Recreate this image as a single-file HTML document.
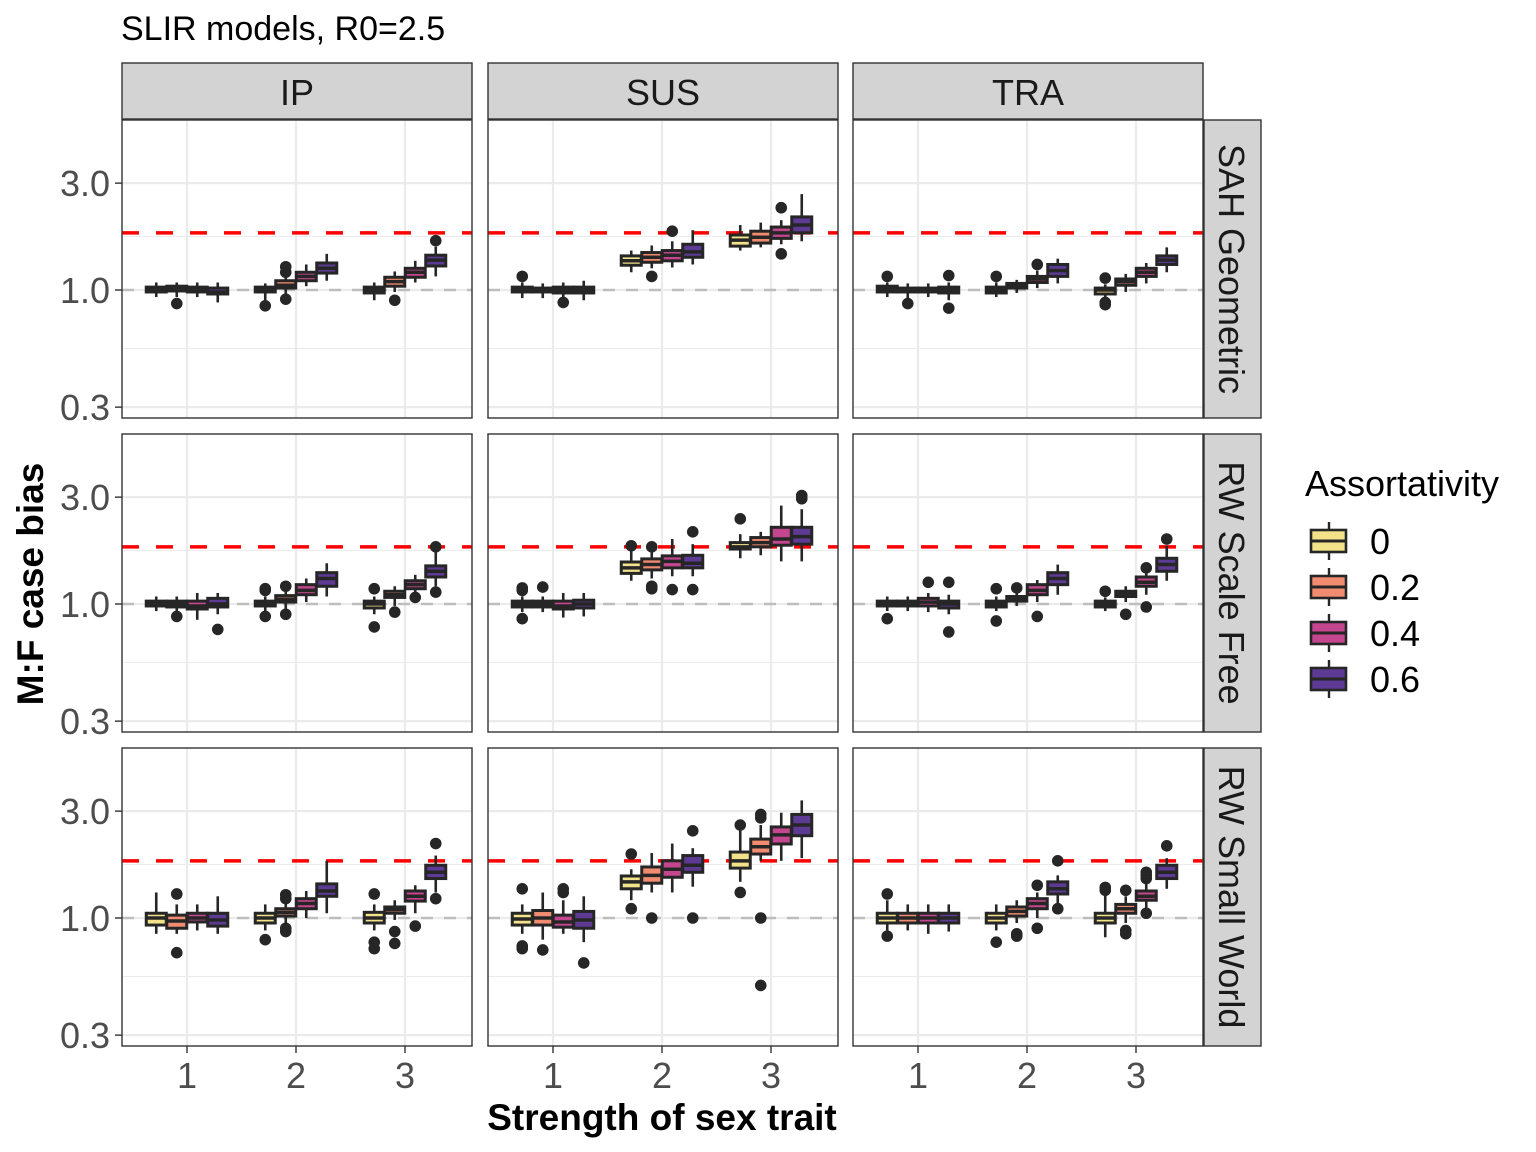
<!DOCTYPE html>
<html><head><meta charset="utf-8"><style>
html,body{margin:0;padding:0;background:#fff}
svg{display:block;font-family:"Liberation Sans",Arial,sans-serif}
</style></head><body>
<svg id="chart" width="1536" height="1152" viewBox="0 0 1536 1152" xmlns="http://www.w3.org/2000/svg">
<text x="121" y="40" font-size="34" fill="#000">SLIR models, R0=2.5</text>
<text transform="translate(43,584) rotate(-90)" text-anchor="middle" font-size="37" font-weight="bold" fill="#000">M:F case bias</text>
<text x="662" y="1130" text-anchor="middle" font-size="37" font-weight="bold" fill="#000">Strength of sex trait</text>
<g id="panels"></g>
<g id="legend">
<text x="1305" y="496" font-size="36">Assortativity</text>
</g>
</svg>
<script>
const colTitles=["IP","SUS","TRA"];
const rowTitles=["SAH Geometric","RW Scale Free","RW Small World"];
const categories=[1,2,3];
const assort=["0","0.2","0.4","0.6"];
const fillColors=["#F2E38A","#F28C70","#C4468E","#5D3A93"];
const yTicks=[0.3,1.0,3.0];
const yTickLabels=["0.3","1.0","3.0"];
const refRed=1.8;
// each box: [lo,q1,med,q3,hi,[outliers]]  panels[row][col][group][assort]
const r1ip=[[[0.93,0.98,1.0,1.03,1.08,[]],[0.93,0.99,1.01,1.04,1.08,[0.87]],[0.93,0.98,1.0,1.03,1.08,[]],[0.88,0.96,0.98,1.02,1.08,[]]],
 [[0.9,0.98,1.0,1.03,1.07,[0.85]],[0.93,1.02,1.05,1.1,1.15,[1.27,1.2,0.91]],[1.04,1.1,1.15,1.2,1.3,[]],[1.1,1.19,1.25,1.32,1.45,[]]],
 [[0.9,0.97,1.0,1.03,1.08,[]],[0.98,1.04,1.09,1.14,1.21,[0.9]],[1.08,1.14,1.2,1.25,1.35,[]],[1.15,1.28,1.36,1.43,1.56,[1.66]]]];
const r1sus=[[[0.92,0.98,1.0,1.03,1.08,[1.15]],[0.92,0.98,1.0,1.02,1.07,[]],[0.9,0.97,1.0,1.03,1.08,[0.88]],[0.9,0.97,1.0,1.03,1.1,[]]],
 [[1.2,1.29,1.35,1.42,1.5,[]],[1.25,1.33,1.4,1.47,1.58,[1.15]],[1.26,1.35,1.43,1.5,1.65,[1.83]],[1.3,1.4,1.48,1.6,1.85,[]]],
 [[1.5,1.57,1.67,1.76,1.95,[]],[1.55,1.62,1.72,1.83,2.0,[]],[1.6,1.7,1.8,1.91,2.05,[2.33,1.45]],[1.65,1.8,1.95,2.12,2.68,[]]]];
const r1tra=[[[0.93,0.98,1.01,1.04,1.08,[1.15]],[0.92,0.98,1.0,1.02,1.07,[0.87]],[0.93,0.98,1.0,1.02,1.07,[]],[0.9,0.97,1.0,1.03,1.08,[1.16,0.83]]],
 [[0.93,0.97,1.0,1.03,1.08,[1.15]],[0.97,1.02,1.05,1.07,1.11,[]],[1.02,1.08,1.12,1.15,1.22,[1.3]],[1.07,1.15,1.22,1.3,1.38,[]]],
 [[0.9,0.96,1.0,1.02,1.06,[1.13,0.88,0.86]],[0.98,1.05,1.09,1.12,1.18,[]],[1.07,1.15,1.2,1.25,1.32,[]],[1.2,1.3,1.36,1.42,1.55,[]]]];
const r2ip=[[[0.93,0.98,1.0,1.03,1.08,[]],[0.93,0.97,1.0,1.03,1.08,[0.88]],[0.85,0.95,0.98,1.03,1.12,[]],[0.9,0.97,1.0,1.06,1.12,[0.77]]],
 [[0.93,0.98,1.0,1.03,1.08,[1.17,1.15,0.88]],[0.93,1.02,1.05,1.09,1.15,[1.2,0.9]],[1.02,1.1,1.15,1.22,1.3,[]],[1.08,1.2,1.3,1.38,1.52,[]]],
 [[0.9,0.96,1.0,1.03,1.08,[1.17,0.79]],[0.98,1.07,1.1,1.14,1.2,[0.92]],[1.1,1.17,1.22,1.27,1.35,[1.07]],[1.2,1.32,1.4,1.48,1.75,[1.8,1.13]]]];
const r2sus=[[[0.92,0.97,1.0,1.03,1.08,[1.18,1.15,0.86]],[0.92,0.97,1.0,1.03,1.08,[1.19]],[0.87,0.95,0.98,1.03,1.12,[]],[0.88,0.96,1.0,1.04,1.12,[]]],
 [[1.27,1.37,1.45,1.54,1.72,[1.82]],[1.3,1.42,1.5,1.59,1.72,[1.8,1.2,1.17]],[1.33,1.45,1.55,1.64,1.95,[1.16]],[1.33,1.45,1.52,1.65,1.85,[2.1,1.16]]],
 [[1.6,1.76,1.8,1.88,2.05,[2.4]],[1.65,1.8,1.88,1.98,2.1,[]],[1.55,1.83,1.95,2.2,2.75,[]],[1.55,1.85,2.0,2.2,2.65,[2.95,3.05]]]];
const r2tra=[[[0.93,0.98,1.0,1.03,1.08,[0.86]],[0.93,0.98,1.0,1.03,1.08,[]],[0.92,0.98,1.02,1.06,1.12,[1.25]],[0.9,0.96,1.0,1.03,1.1,[1.25,0.75]]],
 [[0.93,0.97,1.0,1.03,1.08,[1.17,0.84]],[0.98,1.03,1.05,1.08,1.14,[1.18]],[1.02,1.1,1.15,1.22,1.28,[0.88]],[1.1,1.22,1.3,1.38,1.5,[]]],
 [[0.93,0.97,1.0,1.03,1.07,[1.14]],[1.02,1.08,1.11,1.14,1.2,[0.9]],[1.1,1.2,1.25,1.32,1.4,[1.45,0.97]],[1.27,1.4,1.5,1.6,1.82,[1.95]]]];
const r3ip=[[[0.85,0.93,1.0,1.05,1.3,[]],[0.85,0.9,0.97,1.03,1.15,[1.28,0.7]],[0.88,0.96,1.0,1.05,1.15,[]],[0.85,0.92,0.98,1.05,1.25,[]]],
 [[0.88,0.95,1.0,1.05,1.15,[0.8]],[0.95,1.02,1.06,1.1,1.18,[1.27,1.22,0.87,0.9]],[1.0,1.1,1.16,1.22,1.32,[]],[1.05,1.25,1.32,1.42,1.8,[]]],
 [[0.88,0.95,1.0,1.06,1.15,[1.28,0.78,0.73]],[0.98,1.05,1.09,1.12,1.2,[0.87,0.77]],[1.05,1.19,1.25,1.32,1.4,[0.92]],[1.3,1.5,1.6,1.72,1.9,[2.15,1.22]]]];
const r3sus=[[[0.85,0.93,0.99,1.05,1.15,[1.35,0.75,0.73]],[0.8,0.93,1.0,1.08,1.3,[0.72]],[0.85,0.91,0.96,1.03,1.2,[1.3,1.35]],[0.78,0.9,0.98,1.07,1.25,[0.63]]],
 [[1.2,1.35,1.45,1.54,1.65,[1.93,1.1]],[1.3,1.43,1.55,1.69,1.95,[1.0]],[1.3,1.52,1.65,1.8,2.15,[]],[1.38,1.6,1.72,1.9,2.05,[2.45,1.0]]],
 [[1.45,1.67,1.8,1.97,2.5,[2.6,1.3]],[1.8,1.93,2.08,2.25,2.6,[2.8,2.9,1.0,0.5]],[1.8,2.14,2.35,2.55,2.95,[]],[1.85,2.33,2.6,2.9,3.35,[]]]];
const r3tra=[[[0.88,0.95,1.0,1.05,1.2,[1.28,0.83]],[0.88,0.95,1.0,1.05,1.15,[]],[0.85,0.95,1.0,1.05,1.15,[]],[0.87,0.95,1.0,1.05,1.15,[]]],
 [[0.88,0.95,1.0,1.05,1.15,[0.78]],[0.95,1.02,1.07,1.12,1.2,[0.85,0.83]],[1.0,1.1,1.16,1.22,1.3,[1.4,0.9]],[1.15,1.28,1.35,1.45,1.55,[1.8,1.1]]],
 [[0.82,0.95,1.0,1.05,1.28,[1.37,1.33]],[0.95,1.05,1.1,1.15,1.25,[1.33,0.85,0.88]],[1.1,1.2,1.25,1.32,1.45,[1.6,1.55,1.5,1.05]],[1.35,1.5,1.6,1.72,1.85,[2.1]]]];
const panelData=[[r1ip,r1sus,r1tra],[r2ip,r2sus,r2tra],[r3ip,r3sus,r3tra]];

const NS="http://www.w3.org/2000/svg";
function mk(tag,attrs,parent){const e=document.createElementNS(NS,tag);for(const k in attrs)e.setAttribute(k,attrs[k]);parent.appendChild(e);return e;}
const colX=[122,488,853], panelW=350;
const rowY=[120,434,748], panelH=298;
const pxPerDecade=224;
function yScale(row,v){return rowY[row]+170-Math.log10(v)*pxPerDecade;}
function xScale(col,cat){return colX[col]+65+(cat-1)*109;}
const root=document.getElementById('panels');
const boxW=20, dodge=20.5;

for(let c=0;c<3;c++){
  const s=mk('g',{},root);
  
  
  mk('rect',{x:colX[c],y:63,width:panelW,height:56,fill:'#D3D3D3',stroke:'#333','stroke-width':1.4},s);
  const t=mk('text',{x:colX[c]+panelW/2,y:105,'text-anchor':'middle','font-size':36,fill:'#1A1A1A'},s);t.textContent=colTitles[c];
}
for(let r=0;r<3;r++){
  const s=mk('g',{},root);
  
  
  mk('rect',{x:1204,y:rowY[r],width:57,height:panelH,fill:'#D3D3D3',stroke:'#333','stroke-width':1.4},s);
  const t=mk('text',{transform:`translate(1219,${rowY[r]+panelH/2}) rotate(90)`,'text-anchor':'middle','font-size':36,fill:'#1A1A1A'},s);t.textContent=rowTitles[r];
  yTicks.forEach((v,i)=>{
    const y=yScale(r,v);
    const tl=mk('text',{x:110,y:y+13,'text-anchor':'end','font-size':36,fill:'#4D4D4D'},root);
    
    
    tl.textContent=yTickLabels[i];
    mk('line',{x1:115,x2:122,y1:y,y2:y,stroke:'#333','stroke-width':1.4},root);
  });
}
for(let c=0;c<3;c++){
  categories.forEach(cat=>{
    const x=xScale(c,cat);
    const tl=mk('text',{x:x,y:1088,'text-anchor':'middle','font-size':36,fill:'#4D4D4D'},root);
    
    
    tl.textContent=cat;
    mk('line',{x1:x,x2:x,y1:1046,y2:1053,stroke:'#333','stroke-width':1.4},root);
  });
}
for(let r=0;r<3;r++){for(let c=0;c<3;c++){
  const g=mk('g',{},root);
  
  
  const x0=colX[c],y0=rowY[r];
  mk('rect',{x:x0,y:y0,width:panelW,height:panelH,fill:'#fff'},g);
  [Math.sqrt(0.3),Math.sqrt(3)].forEach(v=>{const y=yScale(r,v);mk('line',{x1:x0,x2:x0+panelW,y1:y,y2:y,stroke:'#EBEBEB','stroke-width':1},g);});
  yTicks.forEach(v=>{const y=yScale(r,v);mk('line',{x1:x0,x2:x0+panelW,y1:y,y2:y,stroke:'#EBEBEB','stroke-width':2.2},g);});
  categories.forEach(cat=>{const x=xScale(c,cat);mk('line',{x1:x,x2:x,y1:y0,y2:y0+panelH,stroke:'#EBEBEB','stroke-width':2.2},g);});
  const yr=yScale(r,refRed);
  const red=mk('line',{x1:x0,x2:x0+panelW,y1:yr,y2:yr,stroke:'#FF0000','stroke-width':3.5,'stroke-dasharray':'17,17'},g);
  
  
  const y1=yScale(r,1);
  const gr=mk('line',{x1:x0,x2:x0+panelW,y1:y1,y2:y1,stroke:'#BEBEBE','stroke-width':2.5,'stroke-dasharray':'12,11'},g);
  
  
  panelData[r][c].forEach((grp,gi)=>{
    grp.forEach((b,ai)=>{
      const cx=xScale(c,categories[gi])+(ai-1.5)*dodge;
      const bg=mk('g',{},g);
      
      
      mk('line',{x1:cx,x2:cx,y1:yScale(r,b[0]),y2:yScale(r,b[4]),stroke:'#262626','stroke-width':2.6},bg);
      const yq3=yScale(r,b[3]),yq1=yScale(r,b[1]);
      mk('rect',{x:cx-boxW/2,y:yq3,width:boxW,height:Math.max(yq1-yq3,1),fill:fillColors[ai],stroke:'#262626','stroke-width':3},bg);
      const ym=yScale(r,b[2]);
      mk('line',{x1:cx-boxW/2,x2:cx+boxW/2,y1:ym,y2:ym,stroke:'#262626','stroke-width':3.5},bg);
      b[5].forEach(o=>{const p=mk('circle',{cx:cx,cy:yScale(r,o),r:5.8,fill:'#262626'},bg);
        
        });
    });
  });
  mk('rect',{x:x0,y:y0,width:panelW,height:panelH,fill:'none',stroke:'#333','stroke-width':1.4},g);
}}
const lg=document.getElementById('legend');
assort.forEach((a,i)=>{
  const yc=541+i*46;
  const k=mk('g',{},lg);
  
  
  mk('line',{x1:1329,x2:1329,y1:yc-19,y2:yc+19,stroke:'#262626','stroke-width':2.4},k);
  mk('rect',{x:1311,y:yc-11,width:35,height:22,fill:fillColors[i],stroke:'#262626','stroke-width':2.6},k);
  mk('line',{x1:1311,x2:1346,y1:yc,y2:yc,stroke:'#262626','stroke-width':3},k);
  const t=mk('text',{x:1370,y:yc+13,'font-size':36,fill:'#000'},k);t.textContent=a;
});
</script>
</body></html>
